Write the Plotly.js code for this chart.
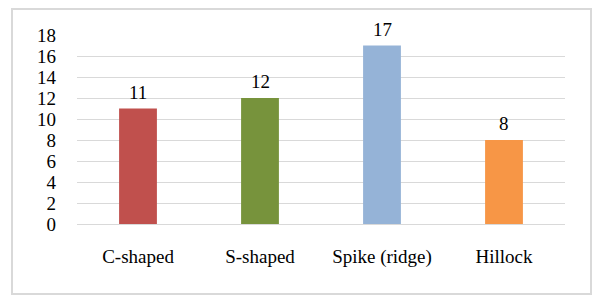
<!DOCTYPE html>
<html>
<head>
<meta charset="utf-8">
<script src="https://cdn.plot.ly/plotly-3.0.1.min.js"></script>
<style>
html,body{margin:0;padding:0;background:#fff;}
#wrap{position:relative;width:600px;height:303px;}
#chart{width:600px;height:303px;}
#frame{position:absolute;left:11px;top:8px;width:577px;height:283px;border:2px solid #d9d9d9;pointer-events:none;}
</style>
</head>
<body>
<div id="wrap"><div id="chart"></div><div id="frame"></div></div>
<script>
const categories = ["C-shaped", "S-shaped", "Spike (ridge)", "Hillock"];
const values = [11, 12, 17, 8];
const colors = ["#C0504D", "#77933C", "#95B3D7", "#F79646"];
const yTicks = [0, 2, 4, 6, 8, 10, 12, 14, 16, 18];

const font = "'Liberation Serif', 'Times New Roman', serif";

const annotations = categories.map((c, i) => ({
  x: c, y: values[i], xref: "x", yref: "y",
  text: String(values[i]), showarrow: false,
  yanchor: "bottom", yshift: 4,
  font: {family: font, size: 19, color: "#000"}
}));

Plotly.newPlot("chart", [{
  type: "bar",
  x: categories,
  y: values,
  marker: {color: colors},
  width: 0.31,
  hoverinfo: "none"
}], {
  width: 600, height: 303,
  margin: {l: 77, r: 35, t: 35, b: 79},
  paper_bgcolor: "rgba(0,0,0,0)",
  plot_bgcolor: "#fff",
  showlegend: false,
  font: {family: font, size: 19, color: "#000"},
  annotations: annotations,
  xaxis: {
    showgrid: false, showline: true, linecolor: "#d9d9d9", linewidth: 1,
    ticks: "", ticklabelstandoff: 15, zeroline: false,
    tickfont: {family: font, size: 19, color: "#000"}
  },
  yaxis: {
    range: [0, 18], tickvals: yTicks, ticktext: yTicks.map(String),
    showgrid: true, gridcolor: "#d9d9d9", gridwidth: 1,
    zeroline: false, showline: false, ticks: "", ticklabelstandoff: 20,
    tickfont: {family: font, size: 19, color: "#000"}
  }
}, {staticPlot: true});
</script>
</body>
</html>
